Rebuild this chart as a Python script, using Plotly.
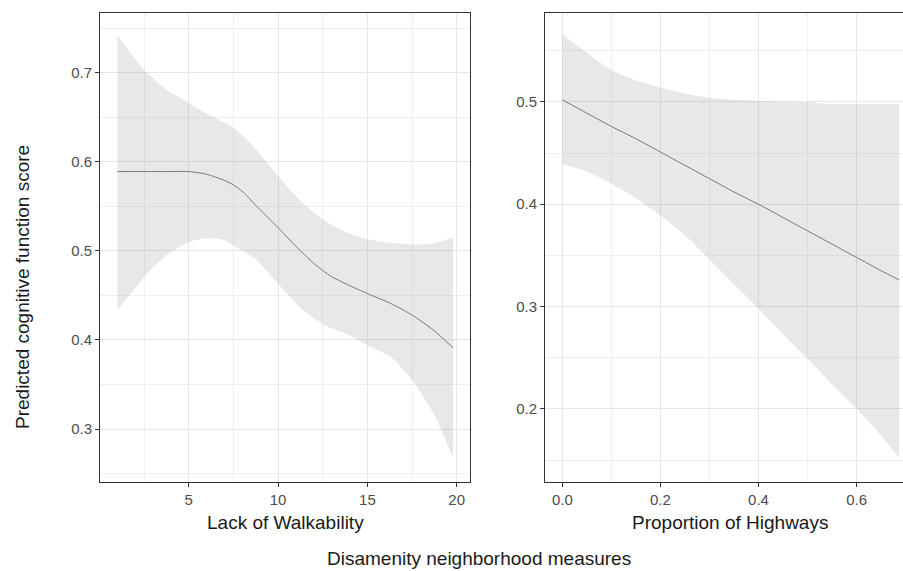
import plotly.graph_objects as go

# ---- Data ----
walk_x = [1, 2, 2.5, 3.75, 5, 6, 7, 7.5, 8.1, 8.8, 10, 11.2, 12.0, 12.5, 13.0, 13.9, 15, 16.3,
          17.5, 18.7, 19.8]
walk_fit = [0.589, 0.589, 0.589, 0.589, 0.589, 0.586, 0.579, 0.574, 0.565, 0.550, 0.526, 0.501,
            0.486, 0.478, 0.471, 0.462, 0.452, 0.441, 0.428, 0.411, 0.391]
walk_upper = [0.742, 0.715, 0.703, 0.681, 0.666, 0.654, 0.644, 0.638, 0.628, 0.613, 0.584, 0.557,
              0.543, 0.535, 0.529, 0.520, 0.513, 0.509, 0.507, 0.508, 0.515]
walk_lower = [0.434, 0.458, 0.471, 0.495, 0.510, 0.514, 0.512, 0.506, 0.499, 0.490, 0.463, 0.437,
              0.424, 0.418, 0.413, 0.406, 0.394, 0.381, 0.355, 0.318, 0.268]

hw_x = [0, 0.05, 0.1, 0.15, 0.2, 0.25, 0.3, 0.35, 0.4, 0.45, 0.5, 0.55, 0.6, 0.65, 0.687]
hw_fit = [0.502, 0.489, 0.476, 0.464, 0.451, 0.438, 0.425, 0.412, 0.400, 0.387, 0.374, 0.361,
          0.348, 0.335, 0.326]
hw_upper = [0.566, 0.548, 0.531, 0.521, 0.514, 0.508, 0.504, 0.502, 0.501, 0.500, 0.4997, 0.498,
            0.498, 0.498, 0.498]
hw_lower = [0.439, 0.432, 0.420, 0.406, 0.389, 0.370, 0.346, 0.322, 0.298, 0.273, 0.249, 0.224,
            0.200, 0.174, 0.152]

left_xticks = [5, 10, 15, 20]
left_yticks = [0.3, 0.4, 0.5, 0.6, 0.7]
right_xticks = [0.0, 0.2, 0.4, 0.6]
right_yticks = [0.2, 0.3, 0.4, 0.5]

y_title = "Predicted cognitive function score"
left_title = "Lack of Walkability"
right_title = "Proportion of Highways"
bottom_title = "Disamenity neighborhood measures"

# ---- Styling ----
FONT = "Liberation Sans, Arial, sans-serif"
BAND = "rgba(153,153,153,0.225)"
LINE = "#787878"
GRID = "#e6e6e6"
MINOR = "#efefef"
BORDER = "#333333"
TICKTXT = "#4d4d4d"

fig = go.Figure()

def add_panel(x, fit, up, lo, xa, ya):
    fig.add_trace(go.Scatter(
        x=x, y=lo, mode="lines", line=dict(width=0, shape="spline", smoothing=0.5),
        hoverinfo="skip", showlegend=False, xaxis=xa, yaxis=ya))
    fig.add_trace(go.Scatter(
        x=x, y=up, mode="lines", fill="tonexty", fillcolor=BAND,
        line=dict(width=0, shape="spline", smoothing=0.5),
        hoverinfo="skip", showlegend=False, xaxis=xa, yaxis=ya))
    fig.add_trace(go.Scatter(
        x=x, y=fit, mode="lines", line=dict(color=LINE, width=1, shape="spline", smoothing=0.6),
        showlegend=False, xaxis=xa, yaxis=ya))

add_panel(walk_x, walk_fit, walk_upper, walk_lower, "x", "y")
add_panel(hw_x, hw_fit, hw_upper, hw_lower, "x2", "y2")

axis_common = dict(
    showgrid=True, gridcolor=GRID, gridwidth=1,
    zeroline=False, showline=True, linecolor=BORDER, linewidth=1,
    ticks="outside", ticklen=4, tickwidth=1, tickcolor=BORDER,
    tickfont=dict(family=FONT, size=15, color=TICKTXT),
)

fig.update_layout(
    width=903, height=571,
    margin=dict(l=0, r=0, t=0, b=0),
    paper_bgcolor="white", plot_bgcolor="white",
    font=dict(family=FONT),
    xaxis=dict(domain=[100/903, 470/903], range=[0.03, 20.745], tickvals=left_xticks,
               minor=dict(dtick=2.5, tick0=0, showgrid=True, gridcolor=MINOR, gridwidth=1),
               mirror=True, anchor="y", **axis_common),
    yaxis=dict(domain=[1-482/571, 1-13/571], range=[0.2405, 0.767], tickvals=left_yticks,
               minor=dict(dtick=0.05, tick0=0, showgrid=True, gridcolor=MINOR, gridwidth=1),
               mirror=True, anchor="x", **axis_common),
    xaxis2=dict(domain=[545/903, 1.0], range=[-0.0354, 0.6947], tickvals=right_xticks,
                tickformat=".1f",
                minor=dict(dtick=0.1, tick0=0, showgrid=True, gridcolor=MINOR, gridwidth=1),
                mirror=True, anchor="y2", **axis_common),
    yaxis2=dict(domain=[1-482/571, 1-13/571], range=[0.1285, 0.5869], tickvals=right_yticks,
                minor=dict(dtick=0.05, tick0=0, showgrid=True, gridcolor=MINOR, gridwidth=1),
                mirror=False, anchor="x2", **axis_common),
)

title_font = dict(family=FONT, size=19, color="#1a1a1a")
fig.add_annotation(text=left_title, xref="paper", yref="paper", x=285/903, y=1-522/571,
                   xanchor="center", yanchor="middle", showarrow=False, font=title_font)
fig.add_annotation(text=right_title, xref="paper", yref="paper", x=730/903, y=1-522/571,
                   xanchor="center", yanchor="middle", showarrow=False, font=title_font)
fig.add_annotation(text=bottom_title, xref="paper", yref="paper", x=479/903, y=1-558/571,
                   xanchor="center", yanchor="middle", showarrow=False, font=title_font)
fig.add_annotation(text=y_title, xref="paper", yref="paper", x=22/903, y=1-287/571,
                   xanchor="center", yanchor="middle", showarrow=False, textangle=-90,
                   font=title_font)

fig.write_html("out.html", config={"displayModeBar": False},
               post_script="document.body.style.margin='0';document.body.style.overflow='hidden';")
